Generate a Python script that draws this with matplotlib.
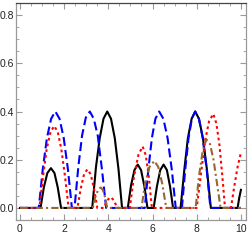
import matplotlib
matplotlib.use("Agg")
import matplotlib.pyplot as plt
from matplotlib.ticker import MultipleLocator

plt.rcParams['font.family'] = ['Liberation Sans', 'DejaVu Sans']

# values, one list pair per curve
black_x = [0, 0.93, 1.08, 1.24, 1.40, 1.56, 1.71, 1.86,
           3.27, 3.44, 3.61, 3.78, 3.95, 4.12, 4.29, 4.46, 4.62,
           4.88, 5.03, 5.18, 5.33, 5.48, 5.63, 5.77,
           6.05, 6.20, 6.35, 6.50, 6.65, 6.79, 6.93,
           7.27, 7.44, 7.60, 7.77, 7.93, 8.10, 8.28, 8.46, 8.64,
           9.85, 9.92, 10.0]
black_y = [0, 0, 0.085, 0.145, 0.165, 0.145, 0.085, 0,
           0, 0.17, 0.29, 0.37, 0.40, 0.37, 0.29, 0.16, 0,
           0, 0.095, 0.157, 0.18, 0.157, 0.09, 0,
           0, 0.09, 0.157, 0.18, 0.157, 0.09, 0,
           0, 0.16, 0.29, 0.37, 0.40, 0.37, 0.29, 0.16, 0,
           0, 0.04, 0.075]

blue_x = [0, 0.85, 1.03, 1.22, 1.41, 1.60, 1.79, 1.98, 2.17, 2.35,
          2.47, 2.64, 2.81, 2.98, 3.16, 3.34, 3.52, 3.71, 3.90,
          5.65, 5.81, 5.97, 6.13, 6.30, 6.49, 6.68, 6.87, 7.05,
          7.33, 7.48, 7.63, 7.78, 7.93, 8.10, 8.27, 8.45, 8.62,
          10.0]
blue_y = [0, 0, 0.16, 0.29, 0.37, 0.40, 0.37, 0.29, 0.16, 0,
          0, 0.17, 0.30, 0.375, 0.40, 0.37, 0.30, 0.16, 0,
          0, 0.16, 0.29, 0.37, 0.40, 0.37, 0.29, 0.16, 0,
          0, 0.16, 0.29, 0.37, 0.40, 0.37, 0.29, 0.16, 0,
          0]

red_x = [0, 0.88, 1.05, 1.21, 1.38, 1.55, 1.71, 1.87, 2.04, 2.20,
         2.60, 2.75, 2.90, 3.05, 3.20, 3.35, 3.50,
         3.80, 3.95, 4.10, 4.25, 4.40,
         4.97, 5.16, 5.36, 5.55, 5.69, 5.83, 5.97,
         8.00, 8.19, 8.38, 8.56, 8.75, 8.89, 9.03, 9.16, 9.28,
         9.55, 9.70, 9.85, 10.0]
red_y = [0, 0, 0.135, 0.245, 0.315, 0.34, 0.315, 0.245, 0.13, 0,
         0, 0.08, 0.14, 0.16, 0.14, 0.08, 0,
         0, 0.032, 0.045, 0.032, 0,
         0, 0.13, 0.22, 0.255, 0.22, 0.13, 0,
         0, 0.14, 0.28, 0.36, 0.39, 0.35, 0.26, 0.13, 0,
         0, 0.09, 0.17, 0.23]

brown_x = [0, 3.30, 3.42, 3.54, 3.65, 3.75, 3.85, 3.95,
           5.50, 5.66, 5.86, 6.08, 6.26, 6.44, 6.62,
           7.95, 8.10, 8.26, 8.43, 8.60, 8.76, 8.92, 9.08,
           10.0]
brown_y = [0, 0, 0.05, 0.075, 0.085, 0.075, 0.045, 0,
           0, 0.10, 0.17, 0.195, 0.17, 0.10, 0,
           0, 0.13, 0.23, 0.285, 0.265, 0.20, 0.10, 0,
           0]

fig = plt.figure(figsize=(2.49, 2.40), dpi=100)
ax = fig.add_axes([16 / 249, 20 / 240, 230 / 249, 217 / 240])

ax.plot(black_x, black_y, color='black', lw=1.5)
ax.plot(blue_x, blue_y, color='#0000ff', lw=1.5, dashes=(4.3, 2.0))
ax.plot(red_x, red_y, color='#ff0000', lw=1.5, dashes=(1.3, 1.5))
ax.plot(brown_x, brown_y, color='#996633', lw=1.5, dashes=(3.5, 1.5, 1.0, 1.5))

ax.set_xlim(-0.18, 10.23)
ax.set_ylim(-0.05, 0.85)

ax.xaxis.set_major_locator(MultipleLocator(2))
ax.xaxis.set_minor_locator(MultipleLocator(0.5))
ax.yaxis.set_major_locator(MultipleLocator(0.2))
ax.yaxis.set_minor_locator(MultipleLocator(0.05))
ax.set_yticks([0, 0.2, 0.4, 0.6, 0.8])
ax.set_yticklabels(['0.0', '0.2', '0.4', '0.6', '0.8'])

ax.tick_params(which='both', direction='in', top=True, right=True,
               color='#999999', labelsize=7.5, labelcolor='#222222')
ax.tick_params(which='major', length=4, width=0.8)
ax.tick_params(which='minor', length=2, width=0.6)
ax.tick_params(axis='y', which='major', pad=1.5)
ax.tick_params(axis='x', which='major', pad=3)

for side in ['left', 'bottom', 'right']:
    ax.spines[side].set_color('#999999')
    ax.spines[side].set_linewidth(0.9)
ax.spines['top'].set_color('#444444')
ax.spines['top'].set_linewidth(0.9)

fig.savefig('out.png', dpi=100)
